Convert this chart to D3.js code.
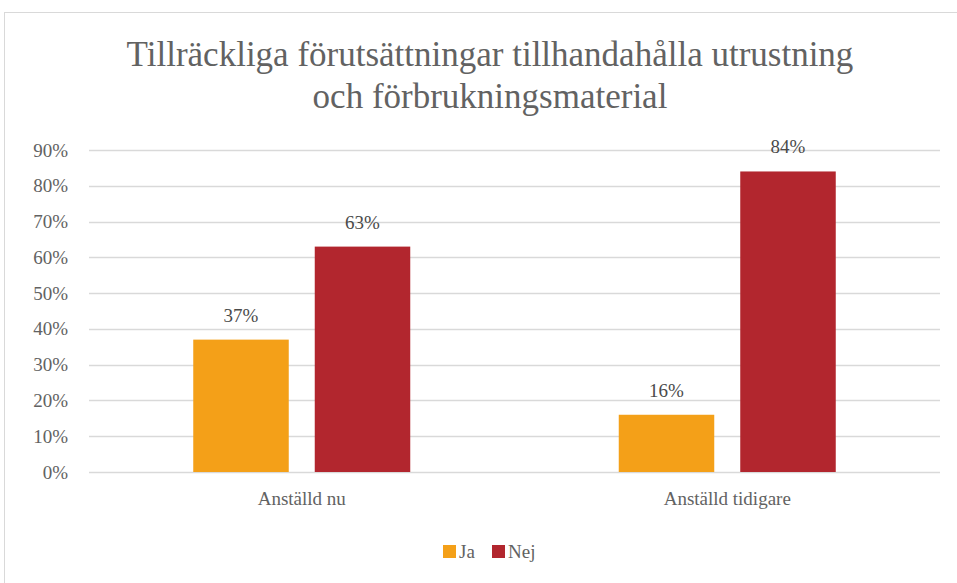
<!DOCTYPE html>
<html>
<head>
<meta charset="utf-8">
<script src="https://cdn.jsdelivr.net/npm/d3@7"></script>
<style>
    body { margin: 0; background: #fff; }
    svg { display: block; }
    svg text { font-family: "Liberation Serif", "Times New Roman", "DejaVu Serif", serif; }
</style>
</head>
<body>
<svg id="chart" width="957" height="583"></svg>
<script>
const categories = ["Anställd nu", "Anställd tidigare"];
const series = ["Ja", "Nej"];
const ja = [0.37, 0.16];
const nej = [0.63, 0.84];
const yTicks = [0, 0.1, 0.2, 0.3, 0.4, 0.5, 0.6, 0.7, 0.8, 0.9];
const titleLines = ["Tillräckliga förutsättningar tillhandahålla utrustning", "och förbrukningsmaterial"];
const colors = { "Ja": "#F4A018", "Nej": "#B2262E" };

const values = { "Ja": ja, "Nej": nej };
const svg = d3.select("#chart");
const textColor = "#626262";

// chart frame
svg.append("rect")
    .attr("x", 4.5).attr("y", 12.5)
    .attr("width", 960).attr("height", 580)
    .attr("fill", "#fff")
    .attr("stroke", "#d9d9d9");

// title
svg.append("text")
    .attr("x", 490).attr("y", 66)
    .attr("text-anchor", "middle")
    .attr("font-size", 35)
    .attr("fill", textColor)
    .selectAll("tspan")
    .data(titleLines)
    .enter().append("tspan")
    .attr("x", 490)
    .attr("dy", (d, i) => i === 0 ? 0 : 42)
    .text(d => d);

const plotLeft = 89, plotRight = 940, plotTop = 150, plotBottom = 472;

const y = d3.scaleLinear().domain([0, 0.9]).range([plotBottom, plotTop]);
const x0 = d3.scaleBand().domain(categories).range([plotLeft, plotRight]);
const x1 = d3.scaleBand().domain(series).range([-108.5, 108.5]).paddingInner(0.214);

// gridlines
svg.append("g")
    .selectAll("line")
    .data(yTicks)
    .enter().append("line")
    .attr("x1", plotLeft).attr("x2", plotRight)
    .attr("y1", d => Math.round(y(d)) + 0.5)
    .attr("y2", d => Math.round(y(d)) + 0.5)
    .attr("stroke", "#d9d9d9")
    .attr("stroke-width", 1.5);

// y axis labels
const yAxis = svg.append("g")
    .attr("transform", `translate(${plotLeft - 21},0)`)
    .call(d3.axisLeft(y).tickValues(yTicks).tickFormat(d3.format(".0%")).tickSize(0).tickPadding(0));
yAxis.attr("font-family", null).attr("font-size", 19);
yAxis.select(".domain").remove();
yAxis.selectAll("text").attr("fill", textColor);

// bars
const groups = svg.append("g")
    .selectAll("g")
    .data(categories)
    .enter().append("g")
    .attr("transform", d => `translate(${x0(d) + x0.bandwidth() / 2},0)`);

groups.selectAll("rect")
    .data((d, i) => series.map(s => ({ s: s, v: values[s][i] })))
    .enter().append("rect")
    .attr("x", d => x1(d.s))
    .attr("width", x1.bandwidth())
    .attr("y", d => y(d.v))
    .attr("height", d => plotBottom - y(d.v))
    .attr("fill", d => colors[d.s]);

groups.selectAll("text.val")
    .data((d, i) => series.map(s => ({ s: s, v: values[s][i] })))
    .enter().append("text")
    .attr("class", "val")
    .attr("x", d => x1(d.s) + x1.bandwidth() / 2)
    .attr("y", d => y(d.v) - 18)
    .attr("text-anchor", "middle")
    .attr("font-size", 19)
    .attr("fill", "#4a4a4a")
    .text(d => d3.format(".0%")(d.v));

// x axis labels
const xAxis = svg.append("g")
    .attr("transform", `translate(0,${plotBottom + 19})`)
    .call(d3.axisBottom(x0).tickSize(0).tickPadding(0));
xAxis.attr("font-family", null).attr("font-size", 19);
xAxis.select(".domain").remove();
xAxis.selectAll("text").attr("fill", textColor);

// legend
const legend = svg.append("g")
    .selectAll("g")
    .data(series)
    .enter().append("g")
    .attr("transform", (d, i) => `translate(${443 + i * 49},545)`);
legend.append("rect")
    .attr("width", 13).attr("height", 13)
    .attr("fill", d => colors[d]);
legend.append("text")
    .attr("x", 16).attr("y", 13)
    .attr("font-size", 19)
    .attr("fill", textColor)
    .text(d => d);
</script>
</body>
</html>
